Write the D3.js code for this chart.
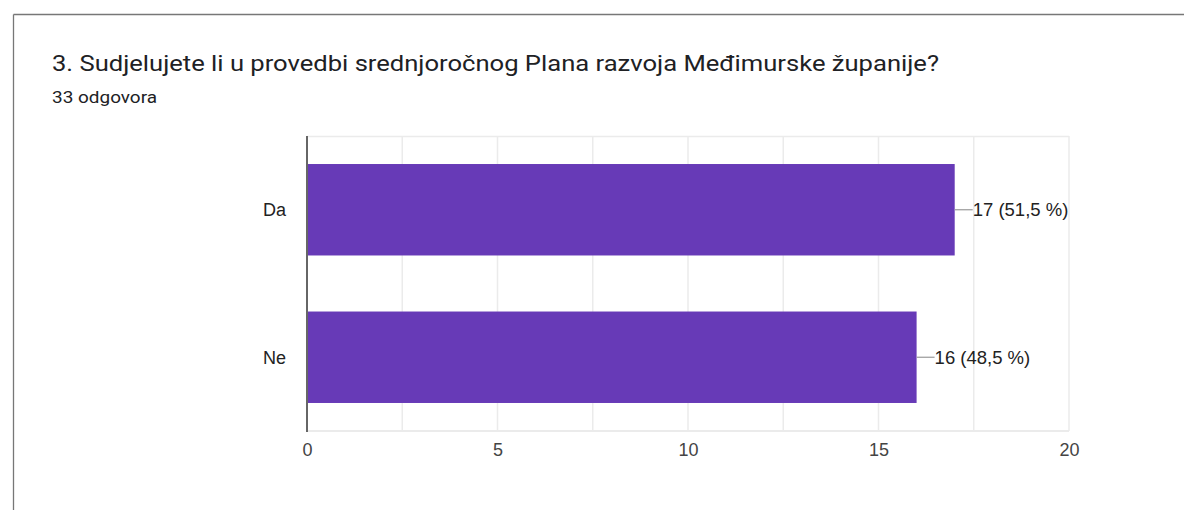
<!DOCTYPE html>
<html>
<head>
<meta charset="utf-8">
<script src="https://cdnjs.cloudflare.com/ajax/libs/d3/7.8.5/d3.min.js"></script>
<style>
  body { margin: 0; background: #fff; }
  svg { display: block; }
</style>
</head>
<body>
<div id="chart"></div>
<script>
var title = "3. Sudjelujete li u provedbi srednjoročnog Plana razvoja Međimurske županije?";
var subtitle = "33 odgovora";
var categories = ["Da", "Ne"];
var counts = [17, 16];
var percents = ["51,5 %", "48,5 %"];
var xTicks = [0, 5, 10, 15, 20];

var svgWidth = 1184;
var svgHeight = 510;

var margin = { top: 136, right: 115, bottom: 80, left: 307 };
var chartWidth = 1069 - margin.left;
var chartHeight = 431 - margin.top;

var svg = d3.select("#chart")
    .append("svg")
    .attr("width", svgWidth)
    .attr("height", svgHeight);

// card border (top and left only visible)
svg.append("line").attr("x1", 13.5).attr("x2", 1184).attr("y1", 14.5).attr("y2", 14.5)
    .attr("stroke", "#777").attr("stroke-width", 1.3);
svg.append("line").attr("x1", 13.5).attr("x2", 13.5).attr("y1", 14.5).attr("y2", 510)
    .attr("stroke", "#777").attr("stroke-width", 1.3);

svg.append("text")
    .attr("x", 52).attr("y", 71)
    .attr("textLength", 887)
    .attr("lengthAdjust", "spacingAndGlyphs")
    .style("font-family", "Roboto, sans-serif")
    .style("font-size", "21.5px")
    .style("fill", "#202124")
    .text(title);

svg.append("text")
    .attr("x", 52).attr("y", 103)
    .attr("textLength", 105)
    .attr("lengthAdjust", "spacingAndGlyphs")
    .style("font-family", "Roboto, sans-serif")
    .style("font-size", "16.5px")
    .style("fill", "#202124")
    .text(subtitle);

var chartGroup = svg.append("g")
    .attr("transform", `translate(${margin.left}, ${margin.top})`);

var xScale = d3.scaleLinear().domain([0, 20]).range([0, chartWidth]);
var yScale = d3.scaleBand().domain(categories).range([0, chartHeight]).paddingInner(0.38).paddingOuter(0.19);

// gridlines every 2.5
chartGroup.append("g")
    .selectAll("line")
    .data(d3.range(2.5, 20.01, 2.5))
    .enter()
    .append("line")
    .attr("x1", d => xScale(d)).attr("x2", d => xScale(d))
    .attr("y1", 0).attr("y2", chartHeight)
    .attr("stroke", "#ebebeb").attr("stroke-width", 1.5);

chartGroup.append("line")
    .attr("x1", 0).attr("x2", chartWidth)
    .attr("y1", 0.5).attr("y2", 0.5)
    .attr("stroke", "#ebebeb").attr("stroke-width", 1.5);
chartGroup.append("line")
    .attr("x1", 0).attr("x2", chartWidth)
    .attr("y1", chartHeight).attr("y2", chartHeight)
    .attr("stroke", "#ebebeb").attr("stroke-width", 2);

// bars
chartGroup.selectAll(".bar")
    .data(categories)
    .enter()
    .append("rect")
    .attr("class", "bar")
    .attr("x", 0)
    .attr("y", d => yScale(d))
    .attr("width", (d, i) => xScale(counts[i]))
    .attr("height", yScale.bandwidth())
    .style("fill", "#673ab7");

// leader lines and value labels
chartGroup.selectAll(".leader")
    .data(categories)
    .enter()
    .append("line")
    .attr("x1", (d, i) => xScale(counts[i]))
    .attr("x2", (d, i) => xScale(counts[i]) + 18)
    .attr("y1", d => yScale(d) + yScale.bandwidth() / 2)
    .attr("y2", d => yScale(d) + yScale.bandwidth() / 2)
    .attr("stroke", "#999").attr("stroke-width", 1.2);

chartGroup.selectAll(".value")
    .data(categories)
    .enter()
    .append("text")
    .attr("x", (d, i) => xScale(counts[i]) + 18)
    .attr("y", d => yScale(d) + yScale.bandwidth() / 2)
    .attr("dy", "0.36em")
    .style("font-family", "Arial, 'Liberation Sans', sans-serif")
    .style("font-size", "18.5px")
    .style("fill", "#222")
    .text((d, i) => counts[i] + " (" + percents[i] + ")");

// category labels
chartGroup.selectAll(".cat")
    .data(categories)
    .enter()
    .append("text")
    .attr("x", -21)
    .attr("y", d => yScale(d) + yScale.bandwidth() / 2)
    .attr("dy", "0.36em")
    .attr("text-anchor", "end")
    .style("font-family", "Arial, 'Liberation Sans', sans-serif")
    .style("font-size", "18px")
    .style("fill", "#222")
    .text(d => d);

// x axis labels
var xAxis = d3.axisBottom(xScale).tickValues(xTicks).tickSize(0).tickPadding(12);
var xg = chartGroup.append("g")
    .attr("transform", `translate(0, ${chartHeight})`)
    .call(xAxis);
xg.select(".domain").remove();
xg.selectAll("text")
    .style("font-family", "Arial, 'Liberation Sans', sans-serif")
    .style("font-size", "18px")
    .style("fill", "#444");

// baseline axis
chartGroup.append("line")
    .attr("x1", 0).attr("x2", 0)
    .attr("y1", 0).attr("y2", chartHeight + 1)
    .attr("stroke", "#666").attr("stroke-width", 2);
</script>
</body>
</html>
